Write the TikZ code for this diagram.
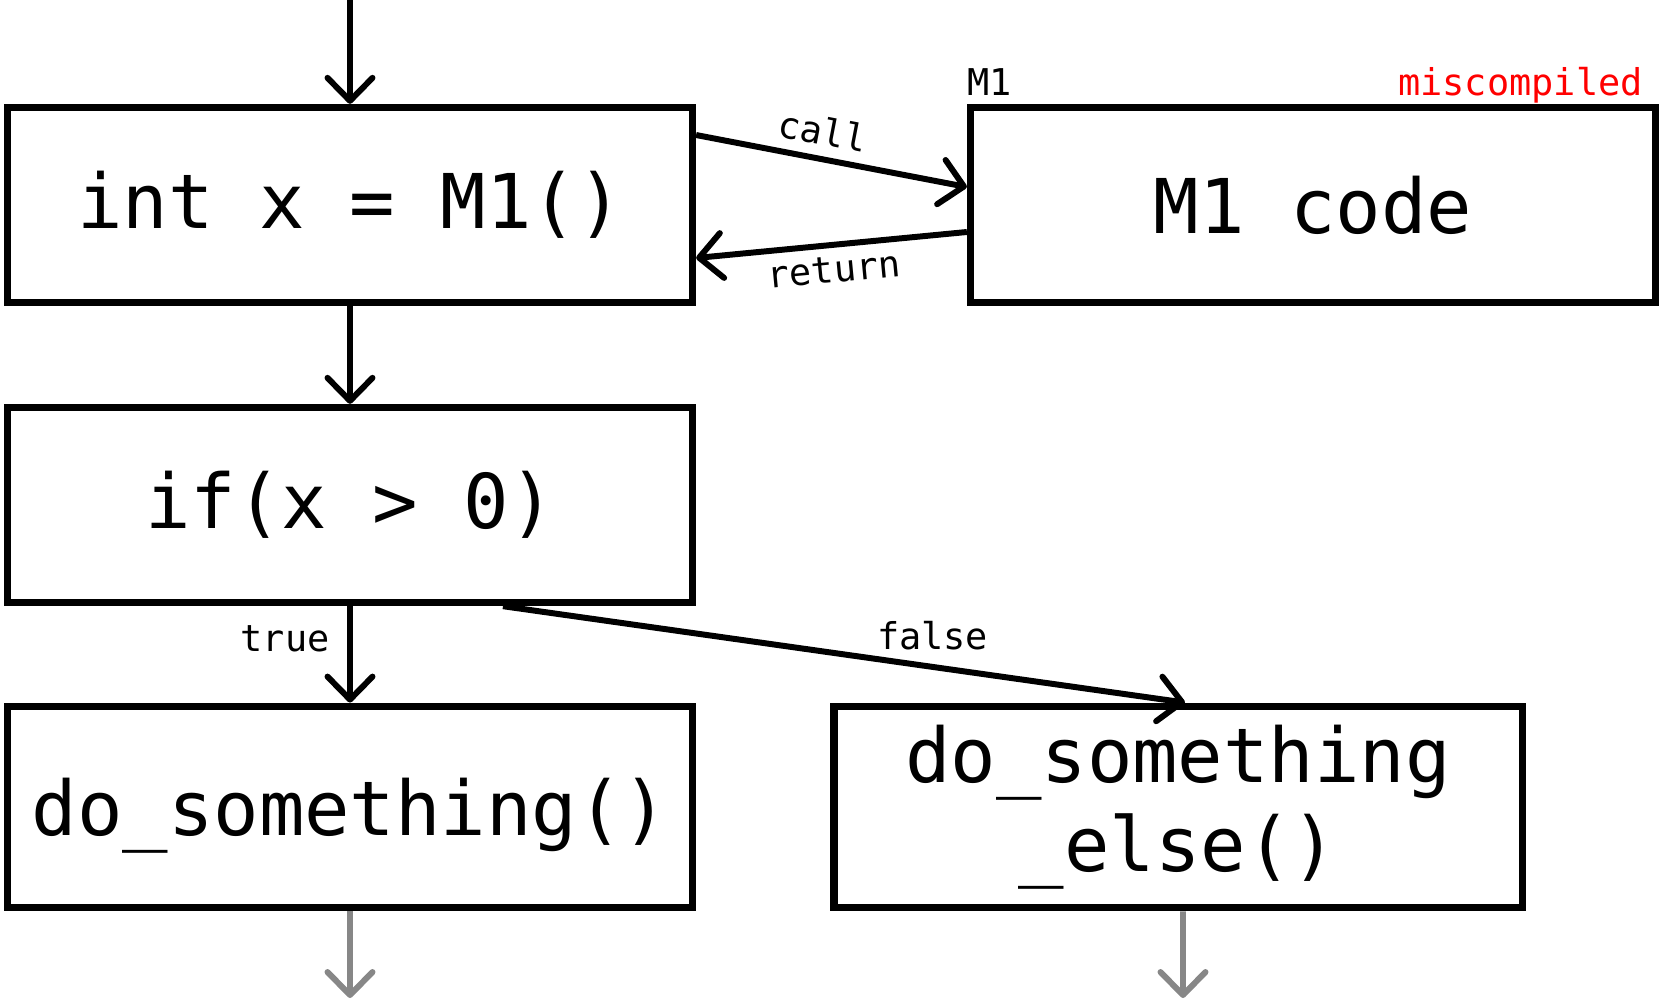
\documentclass[tikz,border=0pt]{standalone}
\usepackage{fontspec}
\setmainfont{DejaVu Sans Mono}
\usetikzlibrary{arrows.meta,positioning}

\begin{document}
\begin{tikzpicture}[x=0.02cm,y=-0.02cm]
            \tikzstyle{block}=[rectangle, draw=black, line width=4.2pt, minimum width=13.7cm, minimum height=3.9cm, inner sep=0pt, align=center, font=\fontsize{43}{51}\selectfont]
            \tikzstyle{connect}=[line width=3.4pt, -{Straight Barb[length=4.6mm,width=9mm,round]}]
            \tikzstyle{lbl}=[inner sep=0pt, font=\fontsize{21}{25}\selectfont]
            \useasboundingbox (0,0) rectangle (1661,1002);
            \node[block] (A) at (350,205){int x = M1()};
            \node[block] (M) at (1313,205){M1 code};
            \node[block] (I) at (350,505){if(x > 0)};
            \node[block, minimum height=4.03cm, text depth=0pt] (D) at (350,807){do\_something()};
            \node[block, minimum height=4.03cm, minimum width=13.77cm] (E) at (1178,807){do\_something\\\_else()};
            \node[lbl, anchor=base west] (ML) at (967,95){M1};
            \node[lbl, anchor=base east, text=red] (MC) at (1643,95){miscompiled};
            \coordinate (top) at (350,-10);
            \coordinate (Dend) at (350,998);
            \coordinate (Eend) at (1183,998);
            \path (top) edge [connect] (A);
            \path (A) edge [connect] (I);
            \path (I) edge [connect] node[lbl, pos=0.34, left=10pt]{true} (D);
            \path ([xshift=3.06cm]I.south) edge [connect] node[lbl, pos=0.63, above=8pt]{false} ([xshift=0.14cm]E.north);
            \path ([yshift=1.4cm]A.east) edge [connect] node[lbl, pos=0.45, above=6pt, sloped]{call} ([yshift=0.36cm]M.west);
            \path ([yshift=-0.54cm]M.west) edge [connect] node[lbl, midway, below=5pt, sloped]{return} ([yshift=-1.06cm]A.east);
            \path ([xshift=0.1cm]E.south) edge [connect, black!47] (Eend);
            \path (D) edge [connect, black!47] (Dend);
        \end{tikzpicture}
\end{document}
